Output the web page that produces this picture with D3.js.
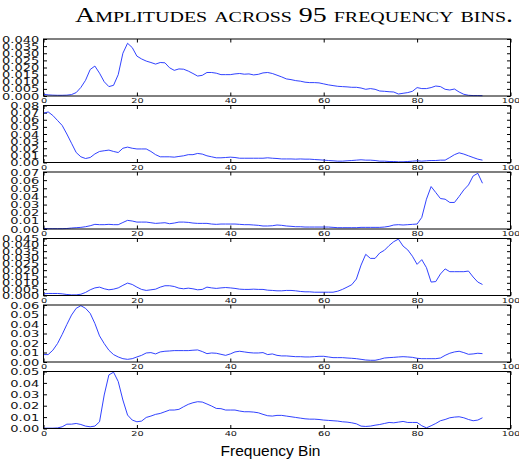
<!DOCTYPE html>
<html>
<head>
<meta charset="utf-8">
<script src="https://cdnjs.cloudflare.com/ajax/libs/d3/7.8.5/d3.min.js"></script>
<style>
body { margin: 0; background: #fff; }
</style>
</head>
<body>
<div class="container"></div>
<script>
// amplitudes, one array per panel (bin index = position)
var amp1 = [0.0012,0.0008,0.0006,0.0005,0.0005,0.0006,0.001,0.0024,0.006,0.011,
  0.0186,0.021,0.016,0.010,0.0066,0.0075,0.015,0.030,0.037,0.034,
  0.028,0.026,0.0245,0.0235,0.0224,0.0235,0.0233,0.0198,0.018,0.019,
  0.0188,0.0175,0.0158,0.014,0.0145,0.0165,0.0165,0.016,0.015,0.015,
  0.015,0.0155,0.0158,0.0153,0.0155,0.0148,0.0152,0.0162,0.0165,0.0158,
  0.0146,0.0134,0.012,0.0115,0.0108,0.0104,0.0097,0.0094,0.0094,0.0092,
  0.0085,0.0078,0.0073,0.0068,0.0066,0.0064,0.0061,0.0061,0.0056,0.0047,
  0.0052,0.0047,0.0035,0.0033,0.003,0.0028,0.0014,0.0019,0.0024,0.0033,
  0.0059,0.0052,0.0052,0.0059,0.007,0.0066,0.0047,0.0042,0.0049,0.0028,
  0.0012,0.0005,0.0003,0.0003,0.0002];
var amp2 = [0.069,0.071,0.066,0.059,0.052,0.040,0.027,0.014,0.008,0.0056,
  0.007,0.012,0.0155,0.0165,0.0174,0.0155,0.014,0.020,0.0216,0.020,
  0.019,0.019,0.019,0.0155,0.011,0.008,0.008,0.008,0.0075,0.0085,
  0.0094,0.011,0.011,0.0127,0.0118,0.0094,0.008,0.0066,0.0066,0.007,
  0.0075,0.007,0.006,0.006,0.006,0.006,0.006,0.006,0.0066,0.006,
  0.0056,0.005,0.005,0.005,0.0047,0.005,0.0047,0.0047,0.0042,0.0038,
  0.0033,0.0028,0.0024,0.0019,0.0019,0.0024,0.0028,0.0033,0.0038,0.0033,
  0.0033,0.0028,0.0019,0.0019,0.0014,0.0014,0.001,0.001,0.0014,0.0019,
  0.0024,0.0019,0.0024,0.0028,0.0028,0.0033,0.0033,0.007,0.011,0.0136,
  0.0118,0.0094,0.007,0.0047,0.0033];
var amp3 = [0.0008,0.0004,0.0004,0.0004,0.0004,0.0006,0.0012,0.0016,0.002,0.0028,
  0.004,0.0057,0.0053,0.0053,0.0057,0.0053,0.0053,0.008,0.0106,0.0098,
  0.0085,0.0085,0.0085,0.0077,0.0069,0.0073,0.0077,0.0065,0.0073,0.0085,
  0.0085,0.0081,0.0073,0.0069,0.0069,0.0069,0.0061,0.0057,0.0061,0.0061,
  0.0061,0.0061,0.0057,0.0053,0.0053,0.0049,0.0045,0.0037,0.0037,0.004,
  0.0049,0.0045,0.0037,0.0033,0.0028,0.0028,0.0024,0.0024,0.0024,0.0024,
  0.0024,0.0024,0.002,0.0016,0.0016,0.0016,0.0016,0.0016,0.002,0.002,
  0.002,0.002,0.002,0.0024,0.0033,0.0049,0.0053,0.0049,0.0053,0.0057,
  0.0061,0.0142,0.0366,0.0521,0.0448,0.0374,0.0366,0.0326,0.0326,0.040,
  0.048,0.0541,0.0651,0.0684,0.0562];
var amp4 = [0.0013,0.0016,0.0016,0.0016,0.0013,0.0008,0.0005,0.0005,0.001,0.0024,
  0.0045,0.006,0.0066,0.0053,0.0045,0.005,0.006,0.008,0.0098,0.0087,
  0.0066,0.0048,0.004,0.0045,0.005,0.0066,0.0077,0.0077,0.0071,0.0058,
  0.0053,0.0058,0.0053,0.0045,0.0048,0.0066,0.006,0.0056,0.006,0.0063,
  0.006,0.0056,0.005,0.0048,0.0048,0.005,0.0048,0.0048,0.0042,0.004,
  0.0037,0.0037,0.004,0.004,0.0037,0.0032,0.0029,0.0029,0.0026,0.0026,
  0.0026,0.0026,0.0026,0.0034,0.0048,0.0066,0.0085,0.013,0.024,0.0325,
  0.0293,0.0293,0.0336,0.0357,0.0394,0.0425,0.0445,0.039,0.036,0.031,
  0.0246,0.0283,0.022,0.0106,0.011,0.017,0.021,0.0188,0.0188,0.0188,
  0.0188,0.0193,0.0146,0.0106,0.0087];
var amp5 = [0.0078,0.0078,0.0124,0.0194,0.029,0.0395,0.0494,0.0565,0.0593,0.0565,
  0.0512,0.0406,0.0275,0.0194,0.0124,0.0078,0.0053,0.0035,0.0028,0.0035,
  0.0053,0.007,0.0095,0.0099,0.0085,0.0106,0.0113,0.0116,0.012,0.012,
  0.012,0.012,0.0124,0.0127,0.011,0.0088,0.0095,0.0092,0.0081,0.007,
  0.0085,0.0106,0.0113,0.0106,0.0099,0.0095,0.0095,0.0099,0.0078,0.0085,
  0.007,0.0064,0.0064,0.006,0.0056,0.0056,0.0053,0.0053,0.0056,0.006,
  0.006,0.0053,0.0046,0.0046,0.0046,0.0042,0.0039,0.0035,0.0028,0.0021,
  0.0018,0.0018,0.0028,0.0042,0.0046,0.0049,0.0053,0.0056,0.0053,0.0049,
  0.0039,0.0035,0.0035,0.0035,0.0035,0.0042,0.007,0.0092,0.0106,0.0113,
  0.0099,0.0081,0.0085,0.0092,0.0088];
var amp6 = [0.0003,0.0003,0.0003,0.0005,0.0015,0.0038,0.0038,0.0044,0.0035,0.0021,
  0.0015,0.0021,0.0059,0.0294,0.047,0.0494,0.0412,0.025,0.0118,0.0074,
  0.0059,0.0065,0.0097,0.0109,0.0124,0.0132,0.0147,0.0162,0.0162,0.0168,
  0.0191,0.0212,0.0226,0.0235,0.0232,0.0215,0.0197,0.0176,0.0174,0.0162,
  0.0162,0.0162,0.0153,0.0147,0.0147,0.0144,0.0138,0.0124,0.0112,0.0109,
  0.0115,0.0115,0.0109,0.0103,0.0097,0.0091,0.0085,0.0082,0.0082,0.0079,
  0.0074,0.0071,0.0068,0.0065,0.0059,0.0056,0.005,0.0041,0.0021,0.0018,
  0.0021,0.0029,0.0035,0.0044,0.0053,0.005,0.0056,0.0062,0.0053,0.0053,
  0.0053,0.0024,0.0006,0.0024,0.0044,0.0068,0.0079,0.0094,0.01,0.0103,
  0.0094,0.0079,0.0068,0.0074,0.0094];

var yTicks1 = [0,0.005,0.010,0.015,0.020,0.025,0.030,0.035,0.040];
var yTicks2 = [0,0.01,0.02,0.03,0.04,0.05,0.06,0.07,0.08];
var yTicks3 = [0,0.01,0.02,0.03,0.04,0.05,0.06,0.07];
var yTicks4 = [0,0.005,0.010,0.015,0.020,0.025,0.030,0.035,0.040,0.045];
var yTicks5 = [0,0.01,0.02,0.03,0.04,0.05,0.06];
var yTicks6 = [0,0.01,0.02,0.03,0.04,0.05];
var yFormats = [".3f", ".2f", ".2f", ".3f", ".2f", ".2f"];
var xTicks = [0,20,40,60,80,100];
var titleText = "Amplitudes across 95 frequency bins.";
var xLabelText = "Frequency Bin";

var series = [amp1, amp2, amp3, amp4, amp5, amp6];
var yTickSets = [yTicks1, yTicks2, yTicks3, yTicks4, yTicks5, yTicks6];

var W = 519, H = 461;
var left = 43.5, right = 510.5;
var firstTop = 39, step = 66.5, panelH = 57;

var svg = d3.select(".container")
  .append("svg")
  .attr("width", W)
  .attr("height", H)
  .style("display", "block");

var x = d3.scaleLinear().domain([0, 100]).range([left, right]);

function drawPanel(k) {
  var top = firstTop + k * step;
  var ticks = yTickSets[k];
  var yMax = ticks[ticks.length - 1];
  var y = d3.scaleLinear().domain([0, yMax]).range([top + panelH, top]);
  var g = svg.append("g");

  // left axis with labels
  var ax = g.append("g")
    .attr("transform", "translate(" + left + ",0)")
    .call(d3.axisLeft(y).tickValues(ticks).tickFormat(d3.format(yFormats[k])).tickSize(-3.5));
  ax.select(".domain").remove();
  ax.selectAll("text")
    .attr("x", null).attr("dy", null)
    .attr("transform", "translate(-4.2,3.1) scale(1,0.64)")
    .style("font-family", "DejaVu Sans")
    .style("font-size", "13px")
    .attr("fill", "#111");

  // right ticks
  var ar = g.append("g")
    .attr("transform", "translate(" + right + ",0)")
    .call(d3.axisRight(y).tickValues(ticks).tickFormat("").tickSize(-3.5));
  ar.select(".domain").remove();

  // top ticks
  var at = g.append("g")
    .attr("transform", "translate(0," + top + ")")
    .call(d3.axisTop(x).tickValues(xTicks).tickFormat("").tickSize(-3.5));
  at.select(".domain").remove();

  // bottom ticks with labels
  var ab = g.append("g")
    .attr("transform", "translate(0," + (top + panelH) + ")")
    .call(d3.axisBottom(x).tickValues(xTicks).tickSize(-3.5));
  ab.select(".domain").remove();
  ab.selectAll("text")
    .attr("y", null).attr("dy", null)
    .attr("transform", "translate(0,7) scale(1,0.75)")
    .style("font-family", "DejaVu Sans")
    .style("font-size", "9.7px")
    .attr("fill", "#111");

  g.selectAll(".tick line").attr("stroke", "#000").attr("stroke-width", 1);

  // the curve
  var line = d3.line()
    .x(function(d, i) { return x(i); })
    .y(function(d) { return y(d); });
  g.append("path")
    .datum(series[k])
    .attr("d", line)
    .attr("fill", "none")
    .attr("stroke", "#1a2cff")
    .attr("stroke-width", 0.9);

  // frame
  g.append("rect")
    .attr("x", left)
    .attr("y", top)
    .attr("width", right - left)
    .attr("height", panelH)
    .attr("fill", "none")
    .attr("stroke", "#000")
    .attr("stroke-width", 1);
}

for (var k = 0; k < series.length; k++) {
  drawPanel(k);
}

svg.append("text")
  .attr("x", 75)
  .attr("y", 21.7)
  .attr("textLength", 438)
  .attr("lengthAdjust", "spacingAndGlyphs")
  .style("font-family", "Liberation Serif")
  .style("font-size", "21px")
  .style("font-variant", "small-caps")
  .attr("fill", "#000")
  .text(titleText);

svg.append("text")
  .attr("x", 270.5)
  .attr("y", 455.5)
  .attr("text-anchor", "middle")
  .style("font-family", "Liberation Sans")
  .style("font-size", "15.5px")
  .attr("fill", "#000")
  .text(xLabelText);
</script>
</body>
</html>
